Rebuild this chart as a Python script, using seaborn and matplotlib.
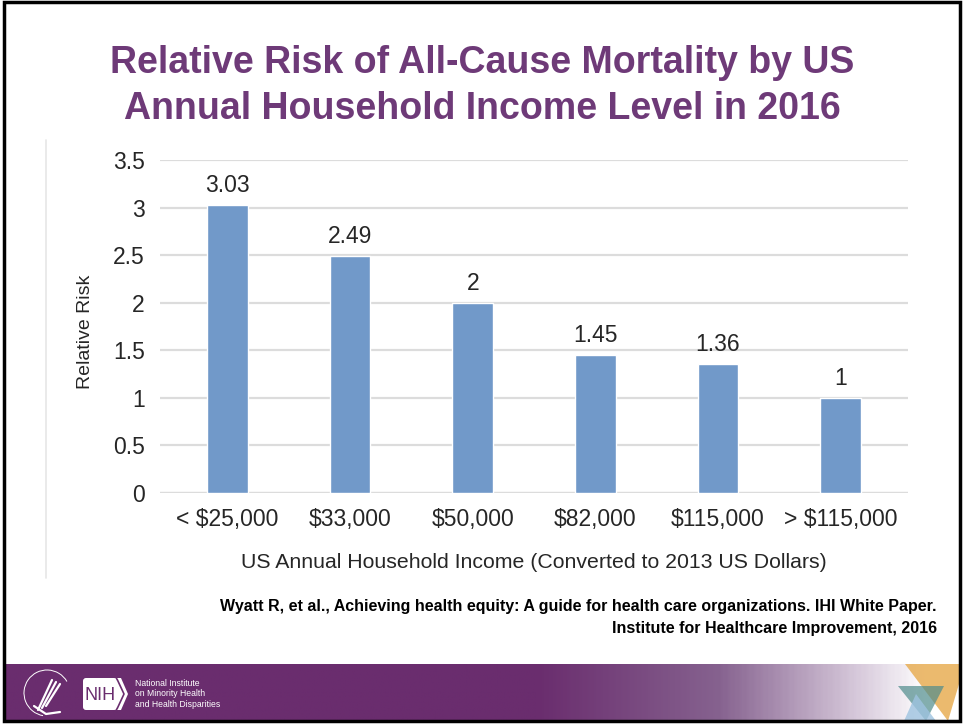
import numpy as np
import pandas as pd
import matplotlib
matplotlib.use("Agg")
import matplotlib.pyplot as plt
import seaborn as sns
from matplotlib.patches import Rectangle, Polygon, FancyBboxPatch, Arc
from matplotlib.colors import LinearSegmentedColormap

# data
income_levels = ["< $25,000", "$33,000", "$50,000", "$82,000", "$115,000", "> $115,000"]
relative_risk = [3.03, 2.49, 2.0, 1.45, 1.36, 1.0]
risk_labels = ["3.03", "2.49", "2", "1.45", "1.36", "1"]
y_ticks = [0, 0.5, 1, 1.5, 2, 2.5, 3, 3.5]
y_tick_labels = ["0", "0.5", "1", "1.5", "2", "2.5", "3", "3.5"]

title_lines = "Relative Risk of All-Cause Mortality by US\nAnnual Household Income Level in 2016"
citation = ("Wyatt R, et al., Achieving health equity: A guide for health care organizations. IHI White Paper.\n"
            "Institute for Healthcare Improvement, 2016")

sns.set_theme(style="white")
plt.rcParams["font.family"] = ["Liberation Sans", "DejaVu Sans"]

W, H = 965, 725
fig = plt.figure(figsize=(W / 100, H / 100), dpi=100)
fig.patch.set_facecolor("white")

def fx(px):
    return px / W

def fy(py):
    return 1 - py / H

# bar chart
ax = fig.add_axes([fx(160), fy(493), fx(908) - fx(160), fy(160) - fy(493)])
df = pd.DataFrame({"income": income_levels, "risk": relative_risk})
sns.barplot(data=df, x="income", y="risk", color="#7199C9", width=0.33,
            saturation=1, ax=ax, zorder=3)
ax.set_xlim(-0.55, 5.55)
ax.set_ylim(0, 3.5)
ax.set_yticks(y_ticks)
ax.set_yticklabels(y_tick_labels, fontsize=16.5, color="#262626")
ax.tick_params(axis="x", labelsize=16.5, colors="#262626", pad=10.5, length=0)
ax.tick_params(axis="y", pad=11, length=0)
ax.yaxis.grid(True, color="#dcdcdc", linewidth=1.6, zorder=0)
ax.set_axisbelow(True)
for s in ax.spines.values():
    s.set_visible(False)
ax.axhline(0, color="#dcdcdc", linewidth=1.6, zorder=1)
ax.set_xlabel("US Annual Household Income (Converted to 2013 US Dollars)",
              fontsize=15.3, color="#262626")
ax.set_ylabel("Relative Risk", fontsize=14, color="#262626")
# label positions in axes coords (from pixels)
ax.xaxis.set_label_coords(0.5, (493 - 562) / 333, transform=ax.transAxes)
ax.xaxis.label.set_va("center")
ax.yaxis.set_label_coords((85 - 160) / 748, (493 - 332) / 333, transform=ax.transAxes)
ax.yaxis.label.set_va("center")
for i, (v, lab) in enumerate(zip(relative_risk, risk_labels)):
    ax.text(i, v + 0.085, lab, ha="center", va="bottom", fontsize=16.5, color="#262626")

# overlay for slide decoration
ov = fig.add_axes([0, 0, 1, 1], zorder=-1)
ov.set_xlim(0, W)
ov.set_ylim(H, 0)
ov.axis("off")

# faint chart frame line on the left
ov.plot([46, 46], [140, 578], color="#e6e6e6", linewidth=1.2)

# title
fig.text(0.5, fy(86), title_lines, ha="center", va="center", fontsize=27,
         fontweight="bold", color="#6E3A78", linespacing=1.34)

# citation
fig.text(fx(937), fy(617.5), citation, ha="right", va="center", fontsize=11.5,
         fontweight="bold", color="black", linespacing=1.63)

# footer band with gradient
ft = fig.add_axes([fx(5), fy(721), fx(959) - fx(5), fy(664) - fy(721)], zorder=1)
grad_cmap = LinearSegmentedColormap.from_list(
    "foot", [(0, "#6A2D6E"), (0.56, "#6A2D6E"), (0.75, "#86628F"),
             (0.9, "#D9CCDD"), (0.97, "#FFFFFF"), (1, "#FFFFFF")])
ft.imshow(np.linspace(0, 1, 400)[None, :], aspect="auto", cmap=grad_cmap,
          extent=[5, 959, 721, 664])
ft.set_xlim(5, 959)
ft.set_ylim(721, 664)
ft.axis("off")
# triangles
ft.add_patch(Polygon([[905, 664], [965, 664], [948, 721]], closed=True,
                     facecolor="#E8AE55", alpha=0.85, edgecolor="none"))
ft.add_patch(Polygon([[898, 686], [944, 686], [926, 721]], closed=True,
                     facecolor="#4F8C8C", alpha=0.7, edgecolor="none"))
ft.add_patch(Polygon([[904, 721], [936, 721], [916, 694]], closed=True,
                     facecolor="#9EC3E0", alpha=0.8, edgecolor="none"))
# logo: seal
ft.add_patch(Arc((47, 693), 46, 46, theta1=100, theta2=330, edgecolor="white", linewidth=0.7))
for k in range(3):
    ft.plot([38 + 4 * k, 52 + 4 * k], [710 - 2 * k, 680 + 2 * k], color="white",
            linewidth=1.6, solid_capstyle="round")
ft.plot([34, 46, 60], [706, 714, 712], color="white", linewidth=1.6, solid_capstyle="round")
# logo: NIH
ft.add_patch(FancyBboxPatch((83, 678), 34, 32, boxstyle="round,pad=0,rounding_size=3",
                            facecolor="white", edgecolor="none"))
ft.add_patch(Polygon([[117, 678], [121, 678], [128, 694], [121, 710], [117, 710]],
                     closed=True, facecolor="white", edgecolor="none"))
ft.plot([117, 124, 117], [679, 694, 709], color="#6A2D6E", linewidth=1.2)
ft.text(100, 695, "NIH", ha="center", va="center", fontsize=13, color="#6A2D6E")
ft.text(135, 694, "National Institute\non Minority Health\nand Health Disparities",
        ha="left", va="center", fontsize=6.2, color="white", linespacing=1.25)

# slide border
ov2 = fig.add_axes([0, 0, 1, 1], zorder=5)
ov2.set_xlim(0, W)
ov2.set_ylim(H, 0)
ov2.axis("off")
ov2.patch.set_alpha(0)
ov2.add_patch(Rectangle((4, 2), 956, 719, facecolor="none", edgecolor="black", linewidth=2.5))

fig.savefig("out.png", dpi=100)
